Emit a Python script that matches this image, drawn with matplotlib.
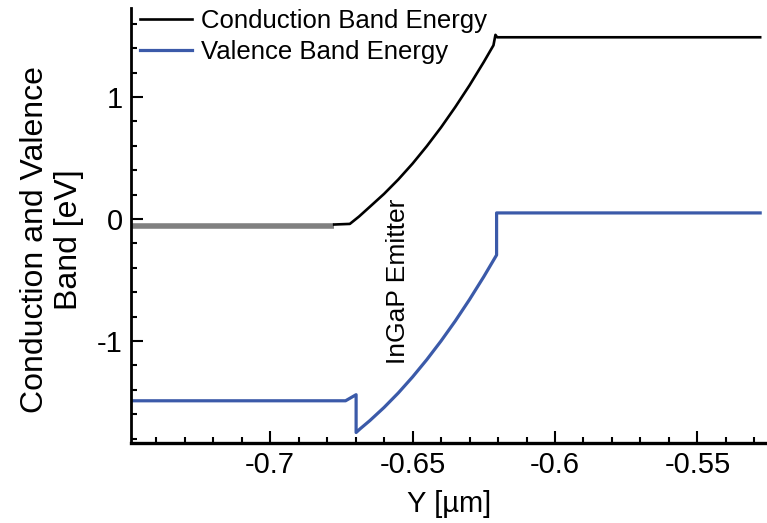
import numpy as np
import matplotlib
matplotlib.use("Agg")
import matplotlib.pyplot as plt
from matplotlib import rcParams
from matplotlib.ticker import MultipleLocator

rcParams['font.family'] = ['Liberation Sans', 'DejaVu Sans']
rcParams['axes.unicode_minus'] = False

# band edges (Y in um, energy in eV)
cb_flat_x = [-0.75, -0.6775]
cb_flat_y = [-0.055, -0.055]

cb_x = [-0.6775, -0.672, -0.6688, -0.665, -0.66, -0.655, -0.65, -0.645,
        -0.64, -0.635, -0.63, -0.625, -0.6216, -0.6209, -0.6203, -0.528]
cb_y = [-0.045, -0.04, 0.02, 0.10, 0.206, 0.324, 0.454, 0.597,
        0.751, 0.918, 1.096, 1.287, 1.424, 1.51, 1.49, 1.49]

vb_x = [-0.75, -0.6735, -0.6698, -0.6698, -0.6684, -0.665, -0.66, -0.655,
        -0.65, -0.645, -0.64, -0.635, -0.63, -0.625, -0.6205, -0.6205, -0.528]
vb_y = [-1.49, -1.49, -1.44, -1.75, -1.72, -1.653, -1.545, -1.426,
        -1.295, -1.153, -1.0, -0.836, -0.66, -0.473, -0.295, 0.05, 0.05]

xticks = [-0.7, -0.65, -0.6, -0.55]
xticklabels = ['-0.7', '-0.65', '-0.6', '-0.55']
yticks = [-1, 0, 1]
yticklabels = ['-1', '0', '1']

blue = '#3b5aa9'

fig = plt.figure(figsize=(7.67, 5.23), dpi=100)
ax = fig.add_axes([0.1708, 0.153, 0.8292, 0.8317])

ax.plot(cb_flat_x, cb_flat_y, color='#808080', lw=4.0, solid_capstyle='butt')
ax.plot(cb_x, cb_y, color='black', lw=1.9, label='Conduction Band Energy')
ax.plot(vb_x, vb_y, color=blue, lw=2.3, label='Valence Band Energy')

ax.text(-0.6551, -0.51, 'InGaP Emitter', rotation=90, fontsize=19,
        ha='center', va='center')

ax.set_xlim(-0.7488, -0.5256)
ax.set_ylim(-1.836, 1.73)

ax.set_xticks(xticks)
ax.set_xticklabels(xticklabels)
ax.set_yticks(yticks)
ax.set_yticklabels(yticklabels)
ax.xaxis.set_minor_locator(MultipleLocator(0.01))
ax.yaxis.set_minor_locator(MultipleLocator(0.2))

ax.spines['top'].set_visible(False)
ax.spines['right'].set_visible(False)
ax.spines['left'].set_linewidth(2)
ax.spines['bottom'].set_linewidth(2.4)

ax.tick_params(which='both', direction='in', width=1.5, labelsize=21, pad=6)
ax.tick_params(which='major', length=8.6)
ax.tick_params(which='minor', length=4.5)

ax.set_xlabel('Y [µm]', fontsize=21, labelpad=8)
ax.set_ylabel('Conduction and Valence\nBand [eV]', fontsize=23,
              linespacing=1.15, va='center')
ax.yaxis.set_label_coords(-0.124, 0.467)

ax.legend(loc='upper left', bbox_to_anchor=(0.183, 0.982),
          bbox_transform=fig.transFigure, frameon=False, fontsize=18.5,
          handlelength=2.0, handletextpad=0.35, labelspacing=0.27,
          borderpad=0, borderaxespad=0)

fig.savefig('out.png', dpi=100)
